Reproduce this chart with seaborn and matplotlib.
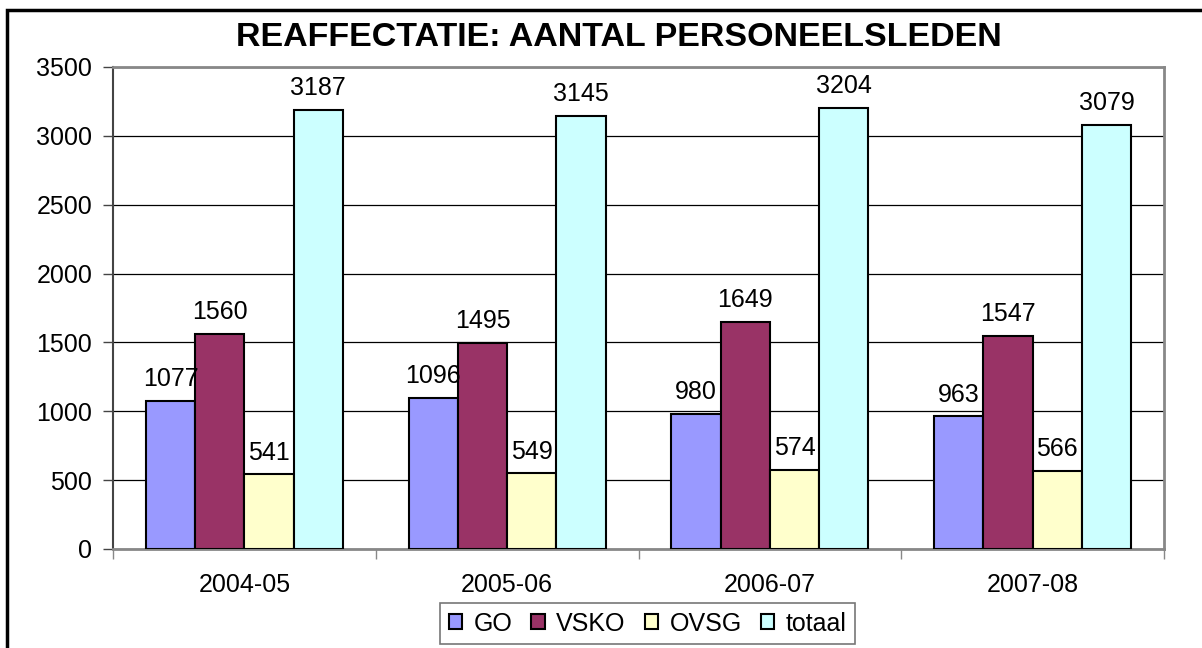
import matplotlib
matplotlib.use("Agg")
import matplotlib.pyplot as plt
import seaborn as sns
import pandas as pd
from matplotlib.patches import Rectangle

years = ["2004-05", "2005-06", "2006-07", "2007-08"]
series = ["GO", "VSKO", "OVSG", "totaal"]
go = [1077, 1096, 980, 963]
vsko = [1560, 1495, 1649, 1547]
ovsg = [541, 549, 574, 566]
totaal = [3187, 3145, 3204, 3079]
colors = ["#9999FF", "#993366", "#FFFFCC", "#CCFFFF"]
title = "REAFFECTATIE: AANTAL PERSONEELSLEDEN"

rows = []
for name, vals in zip(series, [go, vsko, ovsg, totaal]):
    for y, v in zip(years, vals):
        rows.append({"jaar": y, "reeks": name, "aantal": v})
df = pd.DataFrame(rows)

sns.set_theme(style="white")
plt.rcParams["font.family"] = ["Liberation Sans", "DejaVu Sans"]
plt.rcParams["text.color"] = "black"
plt.rcParams["xtick.color"] = "black"
plt.rcParams["ytick.color"] = "black"

FS = 18

fig = plt.figure(figsize=(12.02, 6.48), dpi=100)
ax = fig.add_axes([113/1202, 1-549/648, (1164-113)/1202, (549-67)/648])

sns.barplot(data=df, x="jaar", y="aantal", hue="reeks", hue_order=series,
            palette=colors, width=0.75, edgecolor="black", linewidth=1.5,
            saturation=1, ax=ax, legend=True, zorder=3)

ax.set_ylim(0, 3500)
ax.set_xlim(-0.5, 3.5)
ax.set_yticks(range(0, 3501, 500))
ax.yaxis.grid(True, color="black", linewidth=0.9, zorder=0)
ax.set_axisbelow(True)
ax.set_xlabel("")
ax.set_ylabel("")
ax.tick_params(axis="y", labelsize=FS, length=7, width=1, color="#444444",
               labelcolor="black", left=True, pad=8)
ax.tick_params(axis="x", labelsize=FS, length=0, pad=17, labelcolor="black")
ax.set_xticks([0, 1, 2, 3])
ax.set_xticklabels(years)
ax.set_xticks([-0.5, 0.5, 1.5, 2.5, 3.5], minor=True)
ax.tick_params(axis="x", which="minor", length=7, width=1, color="#888888", bottom=True)
for s in ["top", "right", "bottom"]:
    ax.spines[s].set_color("#888888")
    ax.spines[s].set_linewidth(2)
ax.spines["left"].set_color("#444444")
ax.spines["left"].set_linewidth(1.5)

for cont in ax.containers:
    ax.bar_label(cont, fmt="%d", padding=7, fontsize=FS, color="black")

leg = ax.legend(loc="upper center", bbox_to_anchor=(0.5086, -0.112), ncol=4,
                frameon=True, fontsize=FS, handlelength=0.55, handleheight=0.55,
                handletextpad=0.45, columnspacing=0.75, borderpad=0.35,
                borderaxespad=0, fancybox=False, edgecolor="#555555")
leg.get_frame().set_linewidth(1.2)
for t in leg.get_texts():
    t.set_color("black")

fig.text(618.5/1202, 1-38/648, title, ha="center", va="center", fontsize=24.5,
         fontweight="bold", color="black")

fig.patches.append(Rectangle((7/1202, -0.1), 1.2, 1-10/648+0.1, transform=fig.transFigure,
                             fill=False, edgecolor="black", linewidth=2.5))

fig.savefig("out.png", dpi=100)
